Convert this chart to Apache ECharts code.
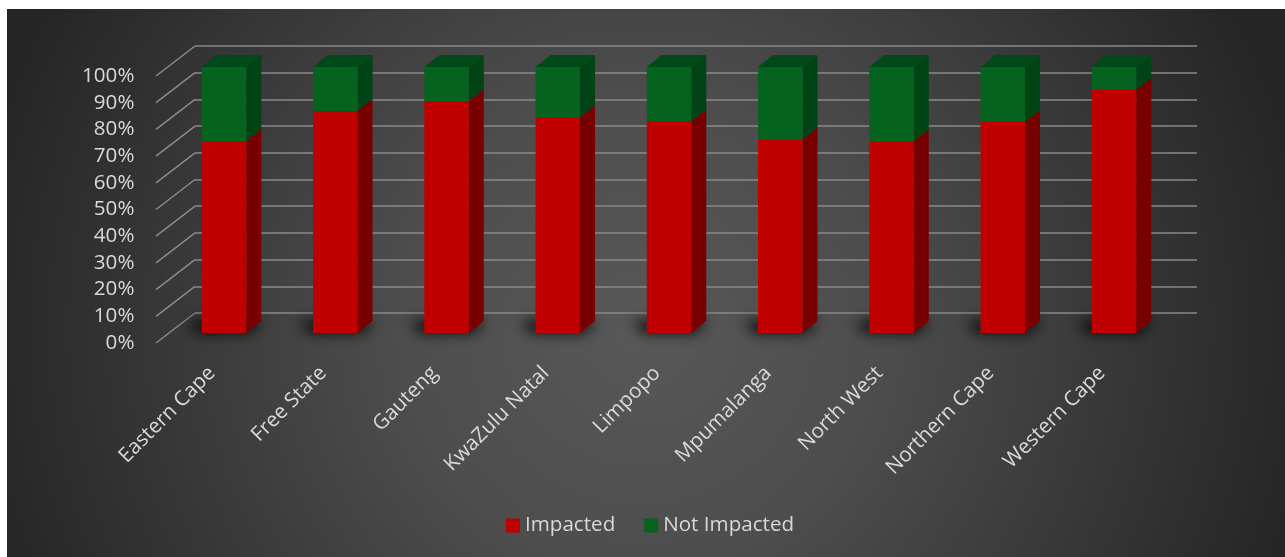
<!DOCTYPE html>
<html><head><meta charset="utf-8">
<script src="https://cdn.jsdelivr.net/npm/echarts@6/dist/echarts.min.js"></script>
<style>html,body{margin:0;padding:0;background:#fff;}#c{width:1285px;height:557px;}</style>
</head><body><div id="c"></div>
<script>
const categories = ['Eastern Cape','Free State','Gauteng','KwaZulu Natal','Limpopo','Mpumalanga','North West','Northern Cape','Western Cape'];
const impacted = [72.2, 83.5, 87.2, 81.1, 79.6, 72.7, 72.1, 79.3, 91.4];
const notImpacted = [27.8, 16.5, 12.8, 18.9, 20.4, 27.3, 27.9, 20.7, 8.6];
const yTicks = [0,10,20,30,40,50,60,70,80,90,100];
const seriesNames = ['Impacted','Not Impacted'];

const FONT = 'Open Sans';
const FS = 20.6;
const TXT = '#d9d9d9';
const DX = 15, DY = 12;
const OFF = 3000;

const impData = categories.map((c,i)=>[i, 0, impacted[i]]);
const notData = categories.map((c,i)=>[i, impacted[i], impacted[i] + notImpacted[i]]);

function makeRender(isTop, front, side, top){
  return function(params, api){
    const i = api.value(0), b = api.value(1), t = api.value(2);
    const pb = api.coord([i,b]), pt = api.coord([i,t]);
    const w = api.size([1,0])[0]*0.4;
    const x0 = pb[0]-w/2, x1 = pb[0]+w/2;
    const children = [
      {type:'polygon', shape:{points:[[x1,pt[1]],[x1+DX,pt[1]-DY],[x1+DX,pb[1]-DY],[x1,pb[1]]]}, style:{fill:side}},
      {type:'rect', shape:{x:x0,y:pt[1],width:w,height:pb[1]-pt[1]}, style:{fill:front}}
    ];
    if(isTop) children.push({type:'polygon', shape:{points:[[x0,pt[1]],[x0+DX,pt[1]-DY],[x1+DX,pt[1]-DY],[x1,pt[1]]]}, style:{fill:top}});
    return {type:'group', children};
  };
}

function renderShadow(params, api){
  const i = api.value(0);
  const p = api.coord([i,0]);
  const w = api.size([1,0])[0]*0.4;
  const x0 = p[0]-w/2 - OFF, x1 = p[0]+w/2 - OFF, y = p[1];
  return {type:'polygon', shape:{points:[[x0-14,y-12],[x1+DX+2,y-12],[x1+4,y],[x0-4,y]]},
    style:{fill:'#000', shadowBlur:14, shadowColor:'rgba(0,0,0,0.9)', shadowOffsetX:OFF, shadowOffsetY:0}};
}

function renderDiag(params, api){
  const p = api.coord([0, api.value(1)]);
  return {type:'line', shape:{x1:p[0], y1:p[1], x2:p[0]-39, y2:p[1]+30},
    style:{stroke:'#8a8a8a', lineWidth:1.5}};
}

const chart = echarts.init(document.getElementById('c'));
chart.setOption({
  animation:false,
  backgroundColor:'#ffffff',
  graphic:[{type:'rect', z:-100, silent:true, shape:{x:7,y:9,width:1278,height:548},
    style:{fill:new echarts.graphic.RadialGradient(640, 330, 680, [
      {offset:0,color:'#585858'},{offset:0.35,color:'#4d4d4d'},{offset:1,color:'#252525'}], true)}}],
  legend:{data:seriesNames, left:506, top:515, padding:0, itemWidth:14, itemHeight:14, itemGap:29, icon:'rect',
    textStyle:{fontFamily:FONT, fontSize:FS, color:TXT}},
  grid:[
    {left:168.4, width:1001.25, top:67, height:266},
    {left:156.4, width:1001.25, top:76, height:267},
    {left:195, width:1002, top:46, height:267}
  ],
  xAxis:[
    {type:'category', gridIndex:0, data:categories, show:false},
    {type:'category', gridIndex:1, data:categories, axisLine:{show:false}, axisTick:{show:false},
      axisLabel:{rotate:45, margin:27, interval:0, fontFamily:FONT, fontSize:FS, color:TXT}},
    {type:'value', gridIndex:2, min:0, max:1, show:false}
  ],
  yAxis:[
    {type:'value', gridIndex:0, min:0, max:100, show:false},
    {type:'value', gridIndex:1, min:0, max:100, interval:10, axisLine:{show:false}, axisTick:{show:false}, splitLine:{show:false},
      axisLabel:{formatter:'{value}%', margin:22, fontFamily:FONT, fontSize:FS, color:TXT}},
    {type:'value', gridIndex:2, min:0, max:100, interval:10, axisLine:{show:false}, axisTick:{show:false}, axisLabel:{show:false},
      splitLine:{show:true, lineStyle:{color:'#8a8a8a', width:1.5}}}
  ],
  series:[
    {type:'custom', name:'diag', xAxisIndex:2, yAxisIndex:2, data:yTicks.map(v=>[0,v]), renderItem:renderDiag, silent:true, z:1},
    {type:'custom', name:'shadow', xAxisIndex:0, yAxisIndex:0, data:impData, renderItem:renderShadow, silent:true, clip:false, z:2},
    {type:'custom', name:seriesNames[0], xAxisIndex:0, yAxisIndex:0, data:impData, encode:{x:0,y:[1,2]},
      itemStyle:{color:'#C00000'}, renderItem:makeRender(false,'#C00000','#780000','#900000'), z:3},
    {type:'custom', name:seriesNames[1], xAxisIndex:0, yAxisIndex:0, data:notData, encode:{x:0,y:[1,2]},
      itemStyle:{color:'#06621F'}, renderItem:makeRender(true,'#06621F','#004416','#004A19'), z:3}
  ]
});
</script></body></html>
